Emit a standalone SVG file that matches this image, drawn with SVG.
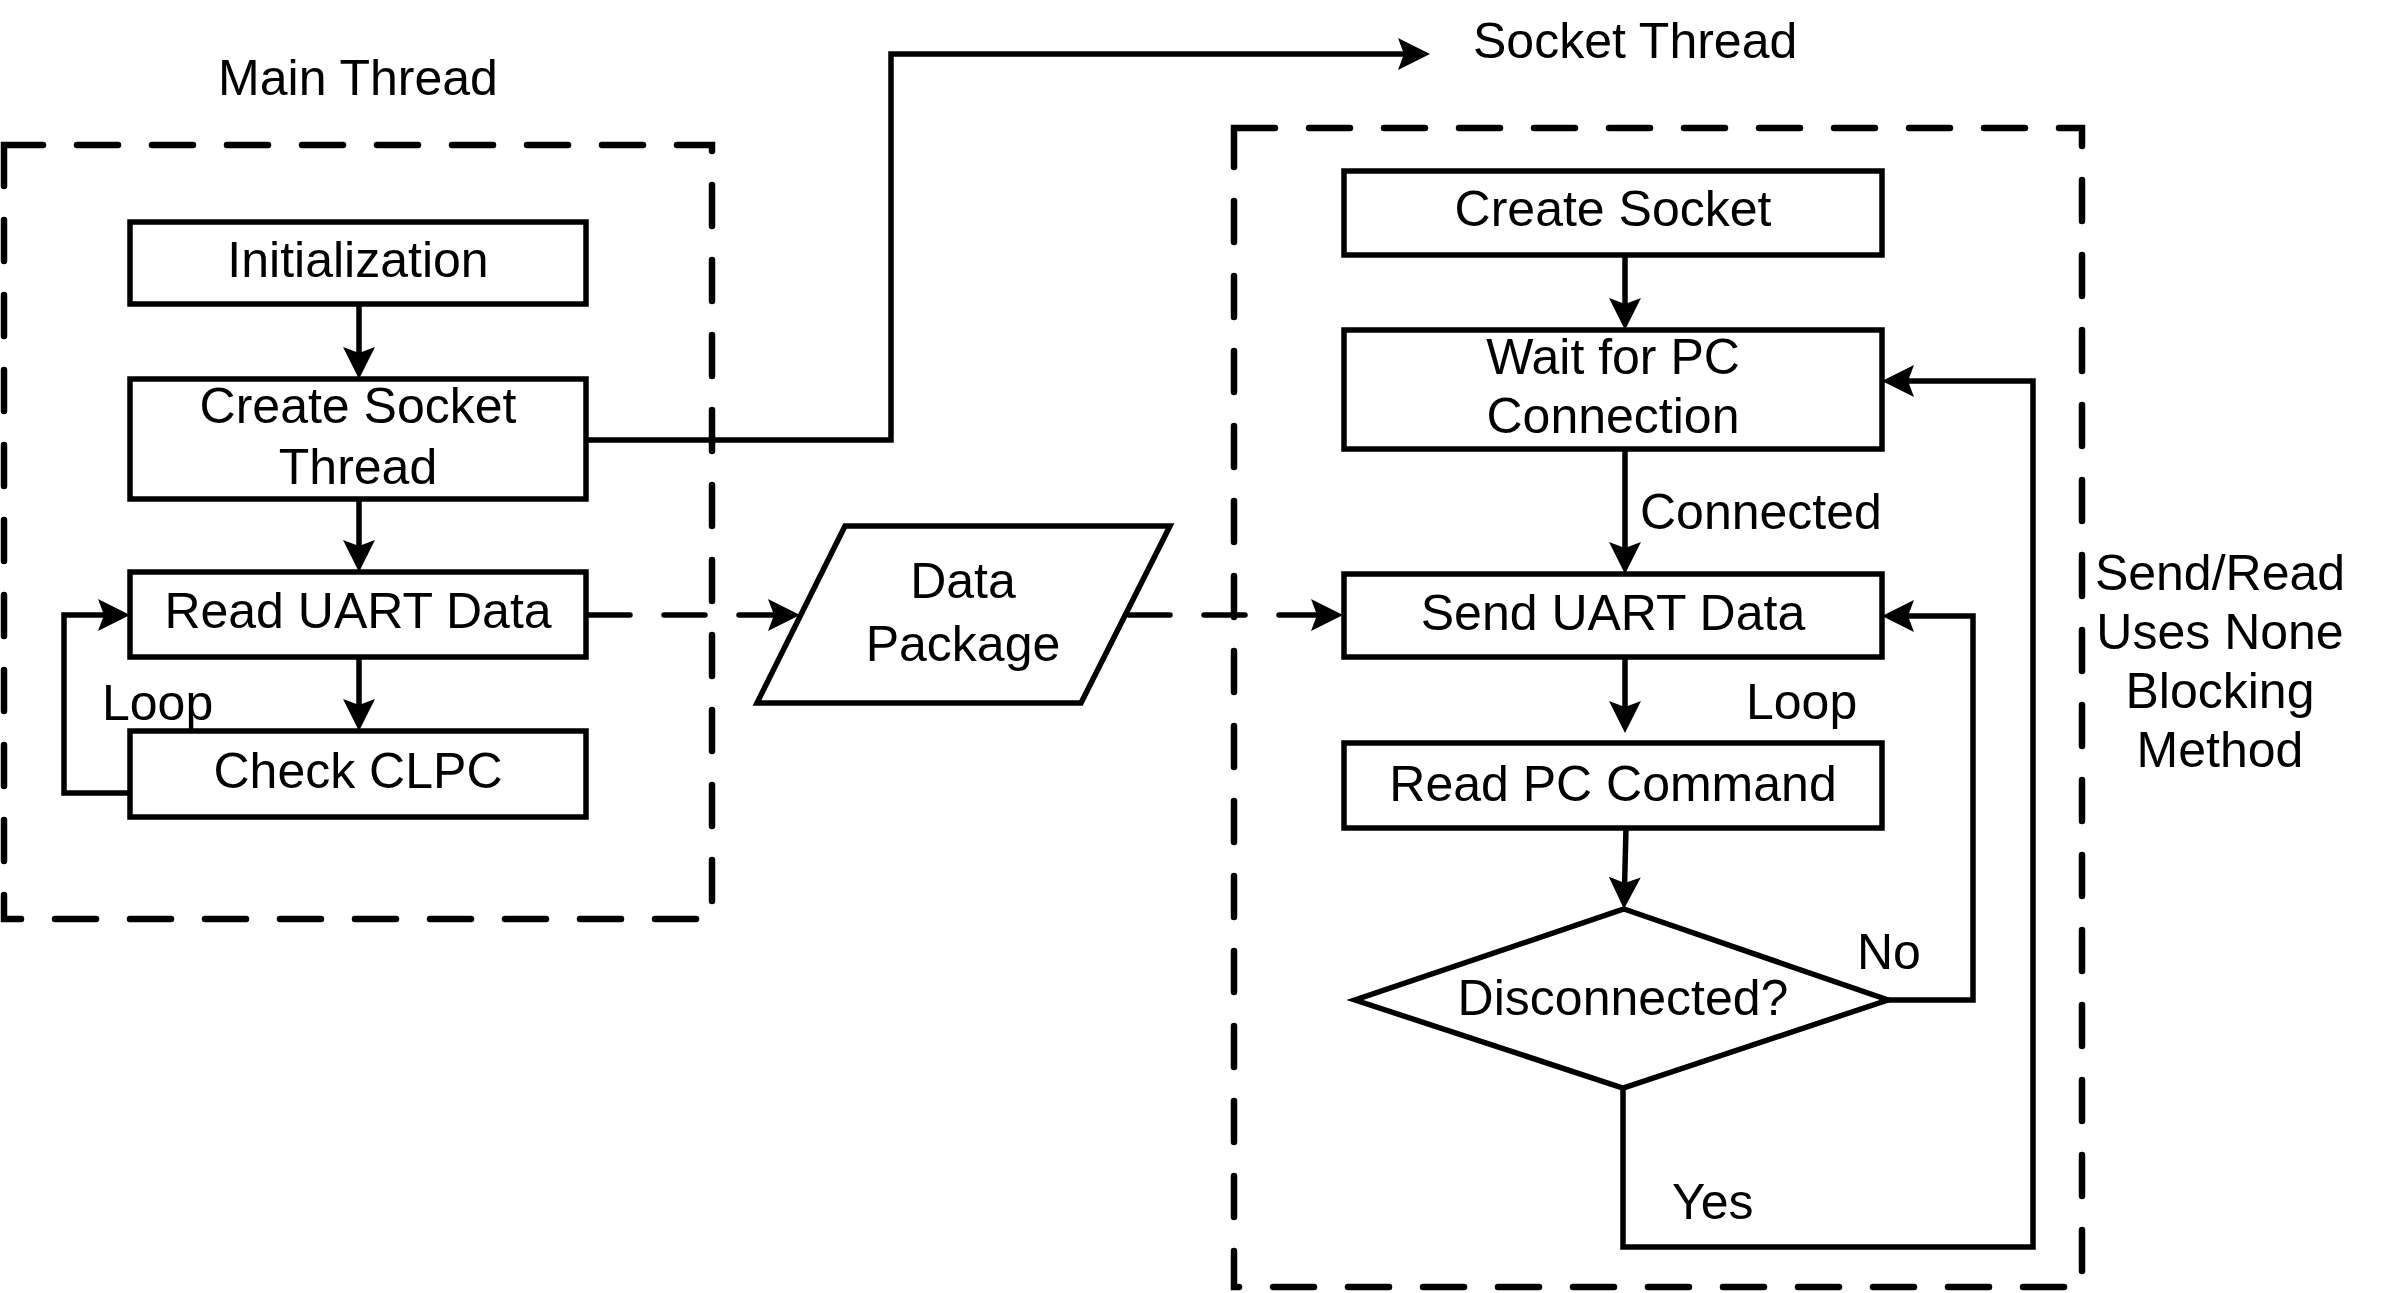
<svg xmlns="http://www.w3.org/2000/svg" width="2385" height="1293" viewBox="0 0 2385 1293">
<style>
.box{fill:#fff;stroke:#000;stroke-width:5.5}
.frame{fill:none;stroke:#000;stroke-width:6.5;stroke-dasharray:41 34;stroke-linecap:round}
.ln{fill:none;stroke:#000;stroke-width:5.5}
.dl{fill:none;stroke:#000;stroke-width:5.5;stroke-dasharray:41 34;stroke-linecap:round}
text{font-family:"Liberation Sans",Arial,sans-serif;font-size:50px;fill:#000}
.c{text-anchor:middle}
</style>
<defs>
<marker id="ah" markerUnits="userSpaceOnUse" markerWidth="32" markerHeight="32" viewBox="0 0 32 32" refX="7" refY="16" orient="auto">
<path d="M0,0 L32,16 L0,32 L6,16 Z" fill="#000"/>
</marker>
</defs>
<rect width="2385" height="1293" fill="#fff"/>
<g id="frames">
<path class="frame" d="M4,145 V919 H712 V145 Z"/>
<path class="frame" d="M1234,128 H2082 V1287 H1234 Z"/>
</g>
<g id="labels">
<text class="c" x="358" y="95">Main Thread</text>
<text x="1473" y="58">Socket Thread</text>
<text class="c" x="2220" y="590">Send/Read</text>
<text class="c" x="2220" y="649">Uses None</text>
<text class="c" x="2220" y="708">Blocking</text>
<text class="c" x="2220" y="767">Method</text>
</g>
<g id="connectors">
<path class="ln" d="M359,304 V354" marker-end="url(#ah)"/>
<path class="ln" d="M359,499 V547" marker-end="url(#ah)"/>
<path class="ln" d="M359,657 V706" marker-end="url(#ah)"/>
<path class="ln" d="M130,793 H64 V615 H105" marker-end="url(#ah)"/>
<path class="ln" d="M586,440 H891 V54 H1405" marker-end="url(#ah)"/>
<path class="dl" d="M589,615 H775" marker-end="url(#ah)"/>
<path class="dl" d="M1129,615 H1318" marker-end="url(#ah)"/>
<path class="ln" d="M1625,255 V305" marker-end="url(#ah)"/>
<path class="ln" d="M1625,449 V549" marker-end="url(#ah)"/>
<path class="ln" d="M1625,657 V708" marker-end="url(#ah)"/>
<path class="ln" d="M1626,828 L1624.6,884" marker-end="url(#ah)"/>
<path class="ln" d="M1623,1088 V1247 H2033 V381 H1907" marker-end="url(#ah)"/>
<path class="ln" d="M1888,1000 H1973 V616 H1907" marker-end="url(#ah)"/>
<text x="102" y="720">Loop</text>
<text x="1640" y="529">Connected</text>
<text x="1746" y="719">Loop</text>
<text x="1857" y="969">No</text>
<text x="1672" y="1219">Yes</text>
</g>
<g id="init">
<rect class="box" x="130" y="222" width="456" height="82"/>
<text class="c" x="358" y="277">Initialization</text>
</g>
<g id="create-socket-thread">
<rect class="box" x="130" y="379" width="456" height="120"/>
<text class="c" x="358" y="423">Create Socket</text>
<text class="c" x="358" y="484">Thread</text>
</g>
<g id="read-uart">
<rect class="box" x="130" y="572" width="456" height="85"/>
<text class="c" x="358" y="628">Read UART Data</text>
</g>
<g id="check-clpc">
<rect class="box" x="130" y="731" width="456" height="86"/>
<text class="c" x="358" y="788">Check CLPC</text>
</g>
<g id="data-package">
<path class="box" d="M845,526 H1170 L1081,703 H757 Z"/>
<text class="c" x="963" y="598">Data</text>
<text class="c" x="963" y="661">Package</text>
</g>
<g id="create-socket">
<rect class="box" x="1344" y="171" width="538" height="84"/>
<text class="c" x="1613" y="226">Create Socket</text>
</g>
<g id="wait-pc">
<rect class="box" x="1344" y="330" width="538" height="119"/>
<text class="c" x="1613" y="374">Wait for PC</text>
<text class="c" x="1613" y="433">Connection</text>
</g>
<g id="send-uart">
<rect class="box" x="1344" y="574" width="538" height="83"/>
<text class="c" x="1613" y="630">Send UART Data</text>
</g>
<g id="read-pc">
<rect class="box" x="1344" y="743" width="538" height="85"/>
<text class="c" x="1613" y="801">Read PC Command</text>
</g>
<g id="disconnected">
<path class="box" d="M1624,909 L1888,1000 L1623,1088 L1355,1000 Z"/>
<text class="c" x="1623" y="1015">Disconnected?</text>
</g>
</svg>
